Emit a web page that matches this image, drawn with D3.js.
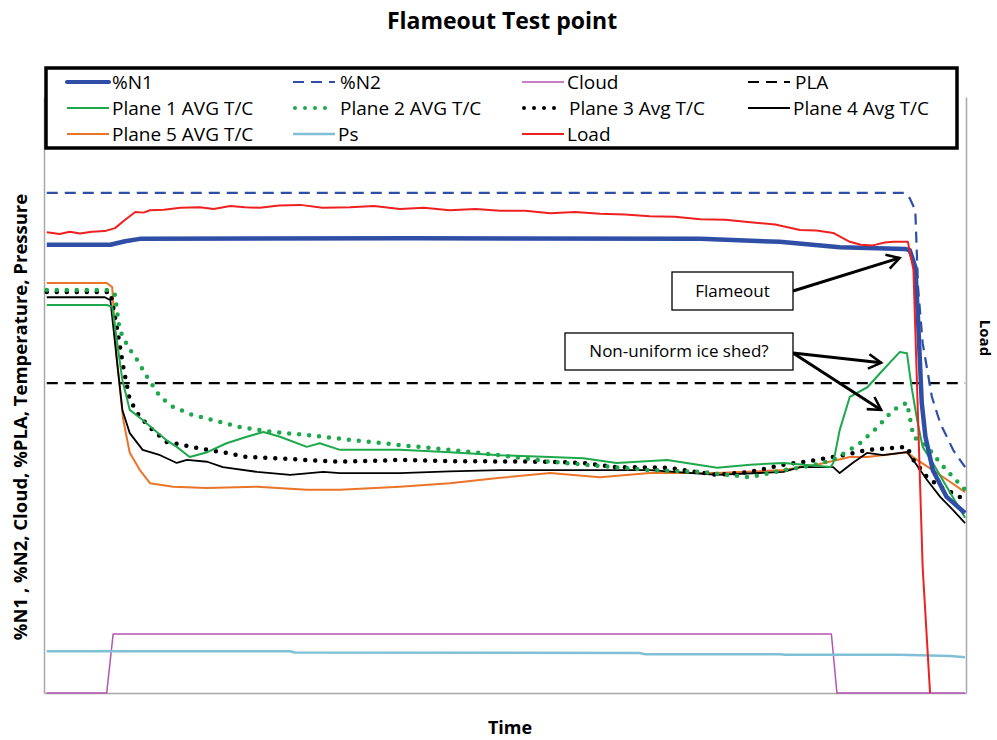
<!DOCTYPE html>
<html>
<head>
<meta charset="utf-8">
<script src="https://cdn.jsdelivr.net/npm/d3@7"></script>
<style>
body { margin: 0; background: #fff; }
text { font-family: "Open Sans", sans-serif; fill: #000; }
</style>
</head>
<body>
<div class="chart"></div>
<script>
// time is 0..100 (% of run), values are % of the left axis
var n1Values = [[0.3,75.2],[7.2,75.2],[8.8,75.8],[10.4,76.2],[40,76.3],[71.2,76.2],[79.8,75.7],[86.3,74.8],[93.4,74.5],[93.9,74.3],[94.5,71.5],[94.8,62.6],[95.2,48.7],[95.6,43.0],[96.4,37.4],[97.9,32.9],[99.9,30.2]];
var n2Values = [[0.3,83.9],[93.4,83.9],[93.9,83.0],[94.5,81.0],[94.8,68.1],[95.3,58.7],[96.3,49.7],[97.2,45.3],[98.6,40.8],[99.9,37.9]];
var cloudValues = [[0.3,0],[6.8,0],[7.5,9.9],[85.4,9.9],[86.0,0],[99.9,0]];
var plaValues = [[0.3,52.0],[99.9,52.0]];
var plane1Values = [[0.3,65.1],[6.8,65.1],[7.4,64.8],[7.9,59.2],[8.5,52.5],[9.3,47.5],[10.7,45.8],[12.0,44.1],[13.3,42.4],[14.4,41.3],[15.8,39.6],[17.7,40.4],[19.8,41.9],[22.0,43.0],[23.8,43.8],[25.6,43.0],[28.5,41.3],[29.9,41.9],[32.1,40.8],[38.6,40.8],[44.0,40.4],[49.5,39.9],[54.9,39.6],[58.5,39.4],[62.1,38.6],[67.6,39.1],[73.0,37.8],[76.6,38.3],[80.2,38.6],[85.3,37.9],[85.6,38.6],[86.3,44.1],[87.4,49.7],[89.3,51.3],[91.0,54.2],[92.8,57.2],[93.6,57.0],[94.1,51.3],[94.7,45.8],[95.3,41.3],[96.4,38.6],[97.9,34.6],[99.9,29.4]];
var plane2Values = [[0.3,67.6],[7.2,67.6],[7.7,66.8],[8.2,60.9],[9.1,58.1],[10.1,55.9],[11.2,53.0],[12.6,49.7],[14.0,48.0],[16.2,46.6],[18.3,45.8],[21.3,44.6],[24.8,43.8],[28.5,43.3],[31.3,42.8],[38.6,41.6],[44.0,40.8],[49.5,39.9],[54.9,38.8],[60.3,38.1],[65.7,37.4],[71.2,37.1],[76.6,36.2],[80.2,37.4],[83.1,38.1],[85.6,39.1],[88.5,41.9],[90.4,44.6],[92.1,47.5],[93.6,48.7],[93.9,46.3],[94.3,43.0],[95.8,41.3],[97.2,38.6],[98.6,36.2],[99.9,34.1]];
var plane3Values = [[0.3,67.3],[7.2,67.3],[7.9,61.4],[8.6,54.7],[9.3,49.2],[10.4,46.3],[11.8,44.1],[13.3,42.1],[15.1,41.6],[17.7,40.8],[19.8,40.3],[22.0,39.6],[24.8,39.4],[28.5,39.1],[32.1,38.8],[38.6,39.1],[44.0,38.9],[54.9,38.8],[58.5,38.6],[62.1,37.9],[67.6,37.8],[73.0,36.6],[76.6,37.1],[80.2,38.3],[83.8,39.1],[86.7,39.9],[89.3,40.8],[93.6,41.3],[94.3,39.1],[95.8,36.2],[97.2,34.6],[98.6,33.5],[99.9,32.4]];
var plane4Values = [[0.3,66.4],[6.6,66.4],[7.2,65.9],[7.9,55.9],[8.5,47.5],[9.3,43.6],[10.7,40.8],[12.6,39.9],[14.4,38.6],[15.5,39.1],[17.7,38.8],[19.4,37.9],[23.1,37.1],[26.7,36.6],[30.3,37.1],[32.1,36.9],[38.6,36.9],[44.0,37.2],[49.5,37.4],[54.9,37.4],[65.7,37.4],[73.0,36.6],[80.2,37.1],[82.0,37.9],[85.6,37.9],[86.3,36.9],[87.7,38.6],[89.3,40.3],[91.0,39.9],[93.6,40.4],[94.5,38.6],[95.8,35.7],[97.2,32.9],[98.6,30.7],[99.9,28.5]];
var plane5Values = [[0.3,68.8],[6.8,68.8],[7.4,68.1],[7.9,55.9],[8.6,45.8],[9.3,40.3],[10.4,37.4],[11.5,35.2],[14.0,34.6],[17.7,34.4],[23.1,34.6],[28.5,34.1],[32.1,34.1],[38.6,34.6],[44.0,35.2],[49.5,36.1],[54.9,36.9],[60.3,36.2],[65.7,36.9],[73.0,36.9],[80.2,37.4],[83.8,38.3],[87.4,39.6],[89.3,39.6],[93.6,40.4],[94.7,39.1],[96.4,37.4],[98.3,35.4],[99.9,33.7]];
var psValues = [[0.3,7.0],[26.7,7.0],[27.2,6.8],[64.6,6.7],[65.2,6.5],[79.8,6.5],[80.4,6.4],[92.8,6.4],[98.3,6.2],[99.9,6.0]];
var loadValues = [[0.3,77.3],[1.7,77.0],[2.8,77.4],[3.9,77.1],[5.2,77.4],[6.6,77.5],[7.7,78.0],[8.8,79.4],[9.9,80.7],[10.8,80.6],[11.5,81.0],[13.0,81.1],[14.8,81.4],[16.9,81.5],[18.4,81.2],[20.2,81.7],[21.8,81.5],[23.4,81.4],[25.5,81.8],[27.8,81.9],[30.2,81.4],[33.2,81.5],[35.8,81.7],[38.6,81.2],[41.2,81.4],[44.0,81.0],[46.8,81.2],[49.5,80.9],[52.2,80.9],[54.9,80.5],[57.6,80.7],[60.3,80.4],[63.0,80.3],[65.7,80.0],[68.4,79.9],[71.2,79.5],[73.9,79.4],[76.6,79.0],[79.3,78.6],[82.0,77.7],[83.8,77.6],[85.6,77.2],[87.4,75.7],[88.6,75.2],[89.9,75.1],[91.2,75.6],[92.1,75.7],[93.7,75.7],[94.3,71.0],[95.3,21.1],[96.1,0]];

var seriesNames = ["%N1", "%N2", "Cloud", "PLA", "Plane 1 AVG T/C", "Plane 2 AVG T/C", "Plane 3 Avg T/C", "Plane 4 Avg T/C", "Plane 5 AVG T/C", "Ps", "Load"];
var seriesData = [n1Values, n2Values, cloudValues, plaValues, plane1Values, plane2Values, plane3Values, plane4Values, plane5Values, psValues, loadValues];

// styles per series, same order as seriesNames
var seriesStyles = [
    {color: "#2f4ea6", width: 4.5, dash: null},
    {color: "#2f4ea6", width: 2.2, dash: "11,7"},
    {color: "#b454b4", width: 1.5, dash: null},
    {color: "#000", width: 2.2, dash: "11,7"},
    {color: "#1ea84c", width: 2, dash: null},
    {color: "#1ea84c", width: 4.5, dash: "0,10", cap: "round"},
    {color: "#000", width: 4.5, dash: "0,10", cap: "round"},
    {color: "#000", width: 1.8, dash: null},
    {color: "#ea7428", width: 2, dash: null},
    {color: "#80c0d6", width: 2.5, dash: null},
    {color: "#ee2020", width: 2, dash: null}
];
var drawOrder = [2, 9, 3, 8, 7, 6, 5, 4, 1, 0, 10];

var svg = d3.select(".chart").append("svg").attr("width", 997).attr("height", 740),
    margin = {top: 97, right: 31, bottom: 47, left: 44},
    chartWidth = 997 - margin.left - margin.right,
    chartHeight = 740 - margin.top - margin.bottom;

var xScale = d3.scaleLinear().domain([0, 100]).range([margin.left, margin.left + chartWidth]);
var yScale = d3.scaleLinear().domain([0, 100]).range([margin.top + chartHeight, margin.top]);

// plot frame: left, bottom and right (load) axes with no ticks
function styleAxis(g) {
    g.select(".domain").attr("stroke", "#a8a8a8").attr("stroke-width", 1.5);
}
svg.append("g").attr("transform", "translate(" + margin.left + ",0)")
    .call(d3.axisLeft(yScale).ticks(0).tickSizeOuter(0)).call(styleAxis);
svg.append("g").attr("transform", "translate(0," + (margin.top + chartHeight) + ")")
    .call(d3.axisBottom(xScale).ticks(0).tickSizeOuter(0)).call(styleAxis);
svg.append("g").attr("transform", "translate(" + (margin.left + chartWidth) + ",0)")
    .call(d3.axisRight(yScale).ticks(0).tickSizeOuter(0)).call(styleAxis);

var line = d3.line()
    .x(function(d) { return xScale(d[0]); })
    .y(function(d) { return yScale(d[1]); });

svg.append("g").selectAll("path")
    .data(drawOrder)
    .enter().append("path")
    .attr("d", function(i) { return line(seriesData[i]); })
    .attr("fill", "none")
    .attr("stroke", function(i) { return seriesStyles[i].color; })
    .attr("stroke-width", function(i) { return seriesStyles[i].width; })
    .attr("stroke-dasharray", function(i) { return seriesStyles[i].dash; })
    .attr("stroke-linecap", function(i) { return seriesStyles[i].cap || "butt"; })
    .attr("stroke-linejoin", "round");

// titles
svg.append("text")
    .attr("x", 502).attr("y", 29)
    .attr("text-anchor", "middle")
    .attr("font-size", 23).attr("font-weight", "bold")
    .text("Flameout Test point");

svg.append("text")
    .attr("transform", "translate(27," + (margin.top + chartHeight / 2 + 22) + ") rotate(-90)")
    .attr("text-anchor", "middle")
    .attr("font-size", 18.5).attr("font-weight", "bold")
    .text("%N1 , %N2, Cloud, %PLA, Temperature, Pressure");

svg.append("text")
    .attr("transform", "translate(980,338) rotate(90)")
    .attr("text-anchor", "middle")
    .attr("font-size", 15).attr("font-weight", "bold")
    .text("Load");

svg.append("text")
    .attr("x", 510).attr("y", 734)
    .attr("text-anchor", "middle")
    .attr("font-size", 18).attr("font-weight", "bold")
    .text("Time");

// legend box
var legendCols = [67, 293, 522, 748];
var legendRows = [82, 108, 134];
svg.append("rect")
    .attr("x", 46).attr("y", 68)
    .attr("width", 911).attr("height", 80)
    .attr("fill", "#fff").attr("stroke", "#000").attr("stroke-width", 3.5);

var legendItem = svg.append("g").selectAll("g")
    .data(seriesNames)
    .enter().append("g")
    .attr("transform", function(d, i) {
        return "translate(" + legendCols[i % 4] + "," + legendRows[Math.floor(i / 4)] + ")";
    });

legendItem.append("line")
    .attr("x1", function(d, i) { return seriesStyles[i].cap ? 2 : 0; })
    .attr("x2", 42)
    .attr("y1", 0).attr("y2", 0)
    .attr("stroke", function(d, i) { return seriesStyles[i].color; })
    .attr("stroke-width", function(d, i) { return Math.min(seriesStyles[i].width, 4); })
    .attr("stroke-dasharray", function(d, i) { return seriesStyles[i].dash; })
    .attr("stroke-linecap", function(d, i) { return seriesStyles[i].cap || (i === 0 ? "round" : "butt"); });

legendItem.append("text")
    .attr("x", function(d, i) { return (i % 4 === 0 || i === 2 || i === 7 || i === 9 || i === 10) ? 45 : 47; })
    .attr("y", 0)
    .attr("dy", "0.35em")
    .attr("font-size", 19)
    .text(function(d) { return d; });

// annotations: box position in pixels, arrow tips in data coords
var notes = [
    {label: "Flameout", box: [672, 272, 121, 38], from: [793, 291], tips: [[92.8, 73.0]]},
    {label: "Non-uniform ice shed?", box: [565, 333, 228, 37], from: [793, 353], tips: [[90.8, 55.4], [90.8, 47.5]]}
];

var defs = svg.append("defs");
defs.append("marker")
    .attr("id", "arrow")
    .attr("viewBox", "0 0 10 10")
    .attr("refX", 8).attr("refY", 5)
    .attr("markerWidth", 6).attr("markerHeight", 6)
    .attr("orient", "auto")
    .append("path")
    .attr("d", "M1,1 L8,5 L1,9")
    .attr("fill", "none").attr("stroke", "#000").attr("stroke-width", 1.4);

notes.forEach(function(n) {
    n.tips.forEach(function(t) {
        svg.append("line")
            .attr("x1", n.from[0]).attr("y1", n.from[1])
            .attr("x2", xScale(t[0])).attr("y2", yScale(t[1]))
            .attr("stroke", "#000").attr("stroke-width", 3)
            .attr("marker-end", "url(#arrow)");
    });
    svg.append("rect")
        .attr("x", n.box[0]).attr("y", n.box[1])
        .attr("width", n.box[2]).attr("height", n.box[3])
        .attr("fill", "#fff").attr("stroke", "#000").attr("stroke-width", 1.3);
    svg.append("text")
        .attr("x", n.box[0] + n.box[2] / 2).attr("y", n.box[1] + n.box[3] / 2)
        .attr("dy", "0.35em")
        .attr("text-anchor", "middle")
        .attr("font-size", 17)
        .text(n.label);
});
</script>
</body>
</html>
